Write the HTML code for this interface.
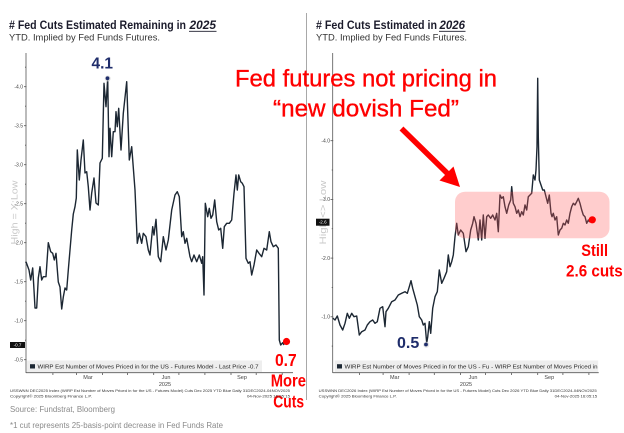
<!DOCTYPE html>
<html>
<head>
<meta charset="utf-8">
<style>
html,body{margin:0;padding:0;background:#fff;}
svg{display:block;}
text{font-family:"Liberation Sans",Arial,sans-serif;}
</style>
</head>
<body>
<svg width="624" height="433" viewBox="0 0 624 433" xmlns="http://www.w3.org/2000/svg">
<rect width="624" height="433" fill="#fff"/>

<!-- divider -->
<line x1="306.5" y1="13" x2="306.5" y2="400" stroke="#a8a8a8" stroke-width="1"/>

<!-- ========== LEFT TITLES ========== -->
<text x="9" y="29" font-size="12" font-weight="bold" fill="#1b1b2b" textLength="177" lengthAdjust="spacingAndGlyphs"># Fed Cuts Estimated Remaining in</text>
<text x="189.5" y="29" font-size="12" font-weight="bold" font-style="italic" fill="#1b1b2b" textLength="26.5" lengthAdjust="spacingAndGlyphs">2025</text>
<line x1="189" y1="31.3" x2="216.5" y2="31.3" stroke="#1b1b2b" stroke-width="0.9"/>
<text x="9" y="40.5" font-size="9.5" fill="#333" textLength="151" lengthAdjust="spacingAndGlyphs">YTD. Implied by Fed Funds Futures.</text>

<!-- ========== RIGHT TITLES ========== -->
<text x="316" y="29" font-size="12" font-weight="bold" fill="#1b1b2b" textLength="121" lengthAdjust="spacingAndGlyphs"># Fed Cuts Estimated in</text>
<text x="439.5" y="29" font-size="12" font-weight="bold" font-style="italic" fill="#1b1b2b" textLength="25.5" lengthAdjust="spacingAndGlyphs">2026</text>
<line x1="439" y1="31.3" x2="465.5" y2="31.3" stroke="#1b1b2b" stroke-width="0.9"/>
<text x="316" y="40.5" font-size="9.5" fill="#333" textLength="151" lengthAdjust="spacingAndGlyphs">YTD. Implied by Fed Funds Futures.</text>

<!-- ========== LEFT CHART AXES ========== -->
<g stroke="#555" stroke-width="0.8">
  <line x1="26" y1="53" x2="26" y2="373"/>
  <line x1="26" y1="372.7" x2="293" y2="372.7"/>
  <line x1="24" y1="86.7" x2="26.5" y2="86.7"/>
  <line x1="24" y1="125.7" x2="26.5" y2="125.7"/>
  <line x1="24" y1="164.7" x2="26.5" y2="164.7"/>
  <line x1="24" y1="203.7" x2="26.5" y2="203.7"/>
  <line x1="24" y1="242.7" x2="26.5" y2="242.7"/>
  <line x1="24" y1="281.7" x2="26.5" y2="281.7"/>
  <line x1="24" y1="320.7" x2="26.5" y2="320.7"/>
  <line x1="24" y1="359.7" x2="26.5" y2="359.7"/>
  <line x1="25" y1="67.2" x2="26" y2="67.2"/>
  <line x1="25" y1="106.2" x2="26" y2="106.2"/>
  <line x1="25" y1="145.2" x2="26" y2="145.2"/>
  <line x1="25" y1="184.2" x2="26" y2="184.2"/>
  <line x1="25" y1="223.2" x2="26" y2="223.2"/>
  <line x1="25" y1="262.2" x2="26" y2="262.2"/>
  <line x1="25" y1="301.2" x2="26" y2="301.2"/>
  <line x1="25" y1="340.2" x2="26" y2="340.2"/>
  <line x1="52.9" y1="372.7" x2="52.9" y2="375"/>
  <line x1="76.4" y1="372.7" x2="76.4" y2="375"/>
  <line x1="102.4" y1="372.7" x2="102.4" y2="375"/>
  <line x1="127.6" y1="372.7" x2="127.6" y2="375"/>
  <line x1="153.7" y1="372.7" x2="153.7" y2="375"/>
  <line x1="178.9" y1="372.7" x2="178.9" y2="375"/>
  <line x1="204.9" y1="372.7" x2="204.9" y2="375"/>
  <line x1="231" y1="372.7" x2="231" y2="375"/>
  <line x1="256.2" y1="372.7" x2="256.2" y2="375"/>
  <line x1="282.2" y1="372.7" x2="282.2" y2="375"/>
</g>
<g font-size="5" fill="#444" text-anchor="end">
  <text x="23" y="88.5">-4.0</text>
  <text x="23" y="127.5">-3.5</text>
  <text x="23" y="166.5">-3.0</text>
  <text x="23" y="205.5">-2.5</text>
  <text x="23" y="244.5">-2.0</text>
  <text x="23" y="283.5">-1.5</text>
  <text x="23" y="322.5">-1.0</text>
  <text x="23" y="361.5">-0.5</text>
</g>
<g font-size="5.5" fill="#444" text-anchor="middle">
  <text x="88" y="379">Mar</text>
  <text x="166" y="379">Jun</text>
  <text x="242" y="379">Sep</text>
  <text x="165" y="386">2025</text>
</g>
<text transform="translate(17.5,212.5) rotate(-90)" font-size="9" fill="#c8c8c8" text-anchor="middle" textLength="64" lengthAdjust="spacingAndGlyphs">High = X:Low</text>

<!-- left legend -->
<rect x="27" y="360.5" width="235" height="11.5" fill="#eeeeee"/>
<rect x="30" y="364.2" width="5" height="4.3" fill="#1c2733"/>
<text x="37.5" y="368.5" font-size="5.3" fill="#222" textLength="221" lengthAdjust="spacingAndGlyphs">WIRP Est Number of Moves Priced in for the US - Futures Model - Last Price -0.7</text>

<!-- left series -->
<polyline fill="none" stroke="#1c2733" stroke-width="1.4" stroke-linejoin="round" points="
26,261.7 29,270 30.7,280 32.7,268 34,290 35,308 36.7,308 38.3,278 40,266.7 41.7,280 43.3,276.7 46,276.7 48.3,242.7 50.7,251.7 52.7,253.3 54.3,260 56,253.3 58.3,282 60,287 61.7,309 63.3,297 65,288 66.7,290 68.3,270 70,250 71.7,230 73.3,214 75,206.7 76.3,198 77.3,150 79.3,180 81,160 83.3,140 85,173 86.7,171.7 88.3,186.7 90,210 91.7,193 94,178 96,203 98.3,205 100,163 102.3,158.3 104,83.3 106,106.7 107.7,78.3 109,156.7 110,128.3 111.7,156.7 113.3,131.7 115,131.7 116,111.7 117.3,126.7 118.7,108.3 121,150 123.3,113.3 126.7,81.7 129.3,160 131.7,146.7 135,190 137.3,243.3 139.3,233.3 141.7,243.3 143.3,233.3 146,236.7 148.3,250 150,255 152.7,226.7 154,235 156,219.3 158.3,256.7 160.7,261.7 163.3,236.7 166,250 168.3,240 171.7,210 175,195 177.3,191.7 179.3,196.7 181.7,236.7 183.3,231.7 185,243.3 186.7,238.3 190,256.7 191.7,261.7 194,255 196.7,261.7 199.3,255 201.7,263.3 202.7,256.7 204,295 205.3,203.3 207.7,216.7 209.3,208.3 211,218.3 212.7,215 214.7,200 216.7,221.7 218.7,230 220.7,228.3 222.7,248.3 224.3,226.7 226.7,223.3 229.3,223.3 231.7,220 234,193.3 236,175 237.3,190 238.7,175 240.7,181.7 242.3,183.3 244,186.7 246,258.3 248.3,263.3 250,261.7 251.7,275 254,265 256.7,250 259,253.3 261.7,256.7 264,248.3 266.7,250 269.3,231.7 271,241.7 273.3,246.7 276,245 278.3,248.3 279.3,340 280.7,345 282.7,342.7 284,345"/>

<!-- left last value box -->
<rect x="10" y="342" width="15" height="6" fill="#111"/>
<text x="17.5" y="346.6" font-size="4.5" fill="#fff" text-anchor="middle">-0.7</text>

<!-- 4.1 annotation -->
<text x="91.5" y="68.3" font-size="15.5" font-weight="bold" fill="#1f2d6b" textLength="21.5" lengthAdjust="spacingAndGlyphs">4.1</text>
<circle cx="107.7" cy="78.5" r="3" fill="#d8d8d8" opacity="0.7"/>
<circle cx="107.5" cy="78.3" r="1.9" fill="#1f2d6b"/>

<!-- left red labels -->
<circle cx="286.5" cy="341.5" r="3.6" fill="#ff0000"/>
<g font-size="17.5" font-weight="bold" fill="#ff0000">
  <text x="275" y="366" textLength="21.7" lengthAdjust="spacingAndGlyphs">0.7</text>
  <text x="270.7" y="386.7" textLength="35.3" lengthAdjust="spacingAndGlyphs">More</text>
  <text x="273.3" y="407.3" textLength="30.7" lengthAdjust="spacingAndGlyphs">Cuts</text>
</g>

<!-- left footers -->
<g font-size="4" fill="#333">
  <text x="10" y="392" textLength="280" lengthAdjust="spacingAndGlyphs">USSWNN DEC2025 Index (WIRP Est Number of Moves Priced in for the US - Futures Model) Cuts Dec 2025 YTD Blue Daily 31DEC2024-04NOV2025</text>
  <text x="10" y="397.5" textLength="82" lengthAdjust="spacingAndGlyphs">Copyright© 2025 Bloomberg Finance L.P.</text>
  <text x="247" y="397.5" textLength="43" lengthAdjust="spacingAndGlyphs">04-Nov-2025 16:05:15</text>
</g>
<text x="10" y="412" font-size="8" fill="#8a8a8a" textLength="105" lengthAdjust="spacingAndGlyphs">Source: Fundstrat, Bloomberg</text>
<text x="10" y="428" font-size="8" fill="#8a8a8a" textLength="213" lengthAdjust="spacingAndGlyphs">*1 cut represents 25-basis-point decrease in Fed Funds Rate</text>

<!-- ========== RIGHT CHART AXES ========== -->
<g stroke="#555" stroke-width="0.8">
  <line x1="332.7" y1="53" x2="332.7" y2="373"/>
  <line x1="332.7" y1="372.7" x2="598.7" y2="372.7"/>
  <line x1="330.5" y1="140.7" x2="333.2" y2="140.7"/>
  <line x1="330.5" y1="199.4" x2="333.2" y2="199.4"/>
  <line x1="330.5" y1="258.1" x2="333.2" y2="258.1"/>
  <line x1="330.5" y1="316.8" x2="333.2" y2="316.8"/>
  <line x1="331.7" y1="82" x2="332.7" y2="82"/>
  <line x1="331.7" y1="170" x2="332.7" y2="170"/>
  <line x1="331.7" y1="228.7" x2="332.7" y2="228.7"/>
  <line x1="331.7" y1="287.4" x2="332.7" y2="287.4"/>
  <line x1="331.7" y1="346.1" x2="332.7" y2="346.1"/>
  <line x1="359.6" y1="372.7" x2="359.6" y2="375"/>
  <line x1="383.1" y1="372.7" x2="383.1" y2="375"/>
  <line x1="409.1" y1="372.7" x2="409.1" y2="375"/>
  <line x1="434.3" y1="372.7" x2="434.3" y2="375"/>
  <line x1="460.4" y1="372.7" x2="460.4" y2="375"/>
  <line x1="485.6" y1="372.7" x2="485.6" y2="375"/>
  <line x1="511.6" y1="372.7" x2="511.6" y2="375"/>
  <line x1="537.7" y1="372.7" x2="537.7" y2="375"/>
  <line x1="562.9" y1="372.7" x2="562.9" y2="375"/>
  <line x1="588.9" y1="372.7" x2="588.9" y2="375"/>
</g>
<g font-size="5" fill="#444" text-anchor="end">
  <text x="330" y="142.5">-4.0</text>
  <text x="330" y="201.2">-3.0</text>
  <text x="330" y="259.9">-2.0</text>
  <text x="330" y="318.6">-1.0</text>
</g>
<g font-size="5.5" fill="#444" text-anchor="middle">
  <text x="394.7" y="379">Mar</text>
  <text x="473" y="379">Jun</text>
  <text x="549.3" y="379">Sep</text>
  <text x="466" y="386">2025</text>
</g>
<text transform="translate(326,212.5) rotate(-90)" font-size="9" fill="#c8c8c8" text-anchor="middle" textLength="64" lengthAdjust="spacingAndGlyphs">High &lt;&gt; Low</text>

<!-- right legend -->
<rect x="334.7" y="360.5" width="263.5" height="11.5" fill="#eeeeee"/>
<rect x="337" y="364.2" width="5" height="4.3" fill="#1c2733"/>
<svg x="344" y="360" width="254" height="12" overflow="hidden">
  <text x="0.5" y="8.5" font-size="5.3" fill="#222" textLength="262" lengthAdjust="spacingAndGlyphs">WIRP Est Number of Moves Priced in for the US - Fu - WIRP Est Number of Moves Priced in for</text>
</svg>

<!-- right series -->
<polyline fill="none" stroke="#1c2733" stroke-width="1.4" stroke-linejoin="round" points="
332.7,318 335,320 337.3,316 340,325 342.7,330 345,323.3 347.3,313.3 349.3,318.3 351.7,313.3 354,316.7 356.7,316 359.3,335 361.7,331.7 365,330 367.3,325 370,321.7 372.7,320 375,323.3 377.3,321.7 380,308.3 382.7,306.7 385,326.7 386,311.7 388.3,308.3 391.7,301.7 395,300 398.3,295 401.7,293.3 405,291.7 407.3,293.3 409.3,286.7 411,280.7 412.7,288.3 415,296.7 417.3,305 419.3,316.7 421.7,320 423.3,325 425,323.3 426.7,343 427.7,337 429.3,321.7 430.7,333.3 432.7,308.3 435,296.7 437.3,291.7 439.3,270 441.7,283.3 444,278.3 446.7,271.7 448.3,255 450,266.7 451.7,261.7 453.3,255 455,236.7 456.7,223.3 458.3,235 460.7,230 463.3,233.3 466,251.7 468.3,246.7 470.7,230 472.7,223.3 474,216.7 476,223.3 478.3,240 480,220 481.7,240 483.3,215 485,238.3 486.7,216.7 488.3,215 490.7,218.3 492.7,215 495,220 496.7,213.3 498.3,231.7 500,195 501.7,198.3 503.3,196.7 505,206.7 506.7,213.3 508.7,205 510.7,200 511.7,186.7 513.3,203.3 515,206.7 516.7,213.3 518.3,210 520,216.7 521.7,211.7 523.3,215 525,205 526.7,210 528.3,196.7 530,195 531.7,193.3 533.3,175 535,180 536,170 537,146.7 537.7,78.3 538.3,136.7 539.3,180 541,185 542.7,190 544.3,190 546,196.7 547.7,203.3 549.3,195 551,213.3 552,216.7 553.3,213.3 555,220 556.7,216.7 558.3,235 560,230 561.7,228.3 563.3,223.3 565,225 566.7,220 568.3,223.3 570,213.3 571.7,206.7 573.3,203.3 575,205 576.7,201.7 578.3,198.3 580,203.3 581.7,210 583.3,215 585,216.7 586.7,223.3 588.3,220 589.3,221.7 591,221"/>

<!-- pink highlight box -->
<rect x="455" y="191.7" width="154.5" height="46.6" rx="10" ry="10" fill="#ff5a5a" fill-opacity="0.3"/>

<!-- right last value box -->
<rect x="316" y="218.7" width="13.5" height="7" fill="#111"/>
<text x="322.7" y="223.7" font-size="4.5" fill="#fff" text-anchor="middle">-2.6</text>

<!-- 0.5 annotation -->
<text x="397" y="348" font-size="16" font-weight="bold" fill="#1f2d6b" textLength="22.3" lengthAdjust="spacingAndGlyphs">0.5</text>
<circle cx="426.2" cy="344.7" r="3" fill="#d8d8d8" opacity="0.7"/>
<circle cx="426" cy="344.5" r="1.9" fill="#1f2d6b"/>

<!-- right red dot and labels -->
<circle cx="592.3" cy="219.8" r="3.6" fill="#ff0000"/>
<g font-size="17" font-weight="bold" fill="#ff0000">
  <text x="581.3" y="256" textLength="26.7" lengthAdjust="spacingAndGlyphs">Still</text>
  <text x="566" y="276.7" textLength="56.7" lengthAdjust="spacingAndGlyphs">2.6 cuts</text>
</g>

<!-- big red annotation -->
<g font-size="24" fill="#ff0000" stroke="#ff0000" stroke-width="0.35">
  <text x="235" y="86.7" textLength="262" lengthAdjust="spacingAndGlyphs">Fed futures not pricing in</text>
  <text x="273" y="116.7" textLength="186" lengthAdjust="spacingAndGlyphs">“new dovish Fed”</text>
</g>

<!-- arrow -->
<line x1="401.5" y1="128.5" x2="448" y2="174" stroke="#ff0000" stroke-width="5.5" stroke-linecap="butt"/>
<polygon points="460,187 439.5,180.5 453.5,166.5" fill="#ff0000"/>

<!-- right footers -->
<g font-size="4" fill="#333">
  <text x="318.7" y="392" textLength="278" lengthAdjust="spacingAndGlyphs">USSWNN DEC2026 Index (WIRP Est Number of Moves Priced in for the US - Futures Model) Cuts Dec 2026 YTD Blue Daily 31DEC2024-04NOV2025</text>
  <text x="318.7" y="397.5" textLength="78" lengthAdjust="spacingAndGlyphs">Copyright© 2025 Bloomberg Finance L.P.</text>
  <text x="554.7" y="397.5" textLength="42.5" lengthAdjust="spacingAndGlyphs">04-Nov-2025 16:05:15</text>
</g>
</svg>
</body>
</html>
